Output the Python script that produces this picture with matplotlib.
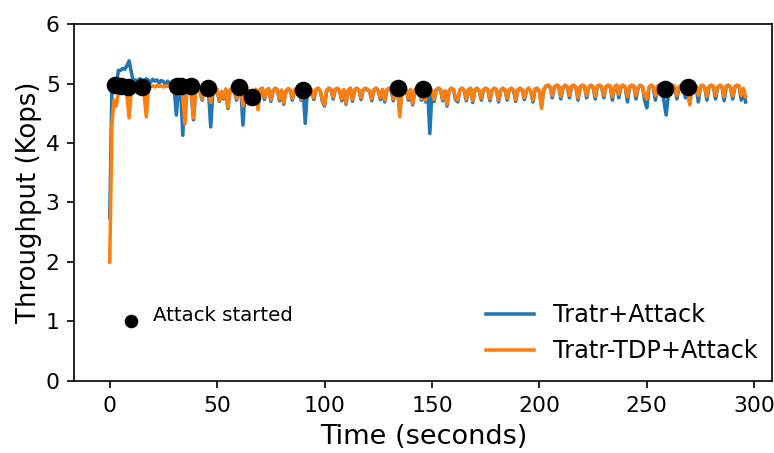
import numpy as np
import matplotlib
matplotlib.use("Agg")
import matplotlib.pyplot as plt

# Throughput samples, one per second (Kops)
tratr_attack = [
    2.75, 4.90, 4.97, 4.95, 5.22, 5.22, 5.25, 5.24, 5.30, 5.38,
    5.20, 5.02, 5.06, 5.04, 5.08, 5.06, 5.03, 5.08, 5.05, 5.02,
    5.07, 5.04, 5.06, 5.01, 5.05, 5.03, 4.98, 5.04, 5.00, 4.97,
    4.92, 4.47, 4.90, 4.92, 4.13, 4.86, 4.92, 4.88, 4.80, 4.39,
    4.90, 4.92, 4.88, 4.72, 4.90, 4.92, 4.86, 4.27, 4.88, 4.92,
    4.89, 4.70, 4.86, 4.74, 4.90, 4.58, 4.88, 4.92, 4.89, 4.72,
    4.90, 4.92, 4.30, 4.87, 4.92, 4.72, 4.86, 4.77, 4.90, 4.60,
    4.89, 4.92, 4.73, 4.88, 4.91, 4.70, 4.87, 4.92, 4.89, 4.71,
    4.88, 4.65, 4.87, 4.91, 4.89, 4.72, 4.88, 4.92, 4.89, 4.72,
    4.90, 4.33, 4.89, 4.92, 4.88, 4.73, 4.89, 4.92, 4.87, 4.70,
    4.62, 4.88, 4.92, 4.89, 4.74, 4.89, 4.92, 4.87, 4.71, 4.89,
    4.65, 4.88, 4.92, 4.70, 4.89, 4.92, 4.88, 4.73, 4.89, 4.92,
    4.89, 4.87, 4.71, 4.89, 4.92, 4.88, 4.73, 4.89, 4.69, 4.89,
    4.92, 4.88, 4.71, 4.89, 4.92, 4.52, 4.87, 4.91, 4.89, 4.72,
    4.89, 4.64, 4.88, 4.92, 4.89, 4.72, 4.88, 4.69, 4.89, 4.16,
    4.87, 4.70, 4.89, 4.92, 4.89, 4.71, 4.87, 4.62, 4.88, 4.92,
    4.89, 4.73, 4.69, 4.89, 4.92, 4.88, 4.71, 4.89, 4.92, 4.68,
    4.89, 4.92, 4.87, 4.72, 4.89, 4.92, 4.89, 4.71, 4.88, 4.92,
    4.89, 4.69, 4.88, 4.92, 4.89, 4.72, 4.89, 4.92, 4.88, 4.70,
    4.89, 4.92, 4.89, 4.73, 4.88, 4.92, 4.87, 4.69, 4.90, 4.92,
    4.87, 4.62, 4.89, 4.95, 4.97, 4.94, 4.76, 4.94, 4.97, 4.95,
    4.74, 4.93, 4.97, 4.94, 4.76, 4.95, 4.97, 4.93, 4.72, 4.94,
    4.97, 4.95, 4.76, 4.93, 4.97, 4.94, 4.74, 4.95, 4.97, 4.94,
    4.76, 4.94, 4.97, 4.95, 4.72, 4.94, 4.97, 4.76, 4.95, 4.97,
    4.93, 4.69, 4.94, 4.97, 4.95, 4.74, 4.93, 4.97, 4.94, 4.72,
    4.59, 4.93, 4.97, 4.94, 4.72, 4.95, 4.97, 4.93, 4.70, 4.47,
    4.80, 4.94, 4.97, 4.94, 4.74, 4.93, 4.97, 4.95, 4.76, 4.94,
    4.66, 4.93, 4.97, 4.94, 4.69, 4.95, 4.97, 4.93, 4.72, 4.94,
    4.97, 4.95, 4.74, 4.93, 4.97, 4.94, 4.71, 4.95, 4.97, 4.93,
    4.74, 4.94, 4.97, 4.95, 4.72, 4.90, 4.69,
]

tratr_tdp_attack = [
    2.00, 4.30, 4.72, 4.62, 4.85, 4.86, 4.84, 4.88, 4.80, 4.42,
    4.86, 4.88, 4.87, 4.90, 4.89, 4.86, 4.82, 4.44, 4.92, 4.95,
    4.96, 4.94, 4.97, 4.95, 4.96, 4.94, 4.96, 4.95, 4.97, 4.94,
    4.92, 4.84, 4.90, 4.86, 4.80, 4.32, 4.88, 4.90, 4.86, 4.42,
    4.88, 4.92, 4.90, 4.74, 4.90, 4.92, 4.88, 4.68, 4.89, 4.92,
    4.90, 4.72, 4.86, 4.76, 4.91, 4.60, 4.89, 4.92, 4.90, 4.75,
    4.91, 4.93, 4.62, 4.88, 4.92, 4.74, 4.88, 4.80, 4.90, 4.56,
    4.90, 4.92, 4.76, 4.89, 4.91, 4.73, 4.88, 4.92, 4.90, 4.74,
    4.89, 4.67, 4.88, 4.91, 4.90, 4.75, 4.89, 4.92, 4.90, 4.74,
    4.91, 4.78, 4.90, 4.92, 4.89, 4.76, 4.90, 4.92, 4.88, 4.73,
    4.64, 4.89, 4.92, 4.90, 4.77, 4.90, 4.92, 4.88, 4.74, 4.90,
    4.67, 4.89, 4.92, 4.73, 4.90, 4.92, 4.89, 4.76, 4.90, 4.92,
    4.90, 4.88, 4.74, 4.90, 4.92, 4.89, 4.76, 4.90, 4.72, 4.90,
    4.92, 4.89, 4.74, 4.90, 4.92, 4.44, 4.88, 4.91, 4.90, 4.75,
    4.90, 4.66, 4.89, 4.92, 4.90, 4.75, 4.89, 4.72, 4.90, 4.91,
    4.88, 4.73, 4.90, 4.92, 4.90, 4.74, 4.88, 4.65, 4.89, 4.92,
    4.90, 4.76, 4.72, 4.90, 4.92, 4.89, 4.74, 4.90, 4.92, 4.71,
    4.90, 4.92, 4.88, 4.75, 4.90, 4.92, 4.90, 4.74, 4.89, 4.92,
    4.90, 4.72, 4.89, 4.92, 4.90, 4.75, 4.90, 4.92, 4.89, 4.73,
    4.90, 4.92, 4.90, 4.76, 4.89, 4.92, 4.88, 4.72, 4.91, 4.92,
    4.88, 4.58, 4.90, 4.96, 4.97, 4.95, 4.80, 4.95, 4.97, 4.96,
    4.78, 4.94, 4.97, 4.95, 4.80, 4.96, 4.97, 4.94, 4.76, 4.95,
    4.97, 4.96, 4.80, 4.94, 4.97, 4.95, 4.78, 4.96, 4.97, 4.95,
    4.80, 4.95, 4.97, 4.96, 4.78, 4.95, 4.97, 4.82, 4.96, 4.97,
    4.94, 4.78, 4.95, 4.97, 4.96, 4.80, 4.94, 4.97, 4.95, 4.79,
    4.74, 4.94, 4.97, 4.95, 4.80, 4.96, 4.97, 4.94, 4.78, 4.90,
    4.82, 4.95, 4.97, 4.95, 4.80, 4.94, 4.97, 4.96, 4.82, 4.95,
    4.64, 4.94, 4.97, 4.95, 4.80, 4.96, 4.97, 4.94, 4.78, 4.95,
    4.97, 4.96, 4.80, 4.94, 4.97, 4.95, 4.78, 4.96, 4.97, 4.94,
    4.79, 4.95, 4.97, 4.96, 4.80, 4.92, 4.78,
]

# Moments when an attack was launched, and the throughput at that moment
attack_times = [2.6, 5.3, 8.6, 15.1, 31.3, 33.2, 38.0, 45.7, 60.1, 66.1,
                89.8, 134.3, 145.9, 258.3, 269.4]
attack_values = [4.97, 4.96, 4.94, 4.94, 4.96, 4.96, 4.96, 4.92, 4.94, 4.77,
                 4.89, 4.92, 4.91, 4.91, 4.94]

x_ticks = [0, 50, 100, 150, 200, 250, 300]
y_ticks = [0, 1, 2, 3, 4, 5, 6]

time_blue = np.arange(len(tratr_attack))
time_orange = np.arange(len(tratr_tdp_attack))

fig, ax = plt.subplots(figsize=(5.16, 3.02), dpi=150)
fig.subplots_adjust(left=0.096, right=0.998, top=0.947, bottom=0.159)

ax.plot(time_blue, tratr_attack, color="#1f77b4", lw=1.7, label="Tratr+Attack")
ax.plot(time_orange, tratr_tdp_attack, color="#ff7f0e", lw=1.7,
        label="Tratr-TDP+Attack")
ax.scatter(attack_times, attack_values, s=55, color="black", zorder=3)

# marker key for the attack dots
ax.plot([10], [1], "o", color="black", markersize=5.5)
ax.text(20, 1.1, "Attack started", fontsize=9.5, va="center")

ax.set_xlim(-16.5, 308.5)
ax.set_ylim(0, 6)
ax.set_yticks(y_ticks)
ax.set_xticks(x_ticks)
ax.tick_params(labelsize=10.5)
ax.set_xlabel("Time (seconds)", fontsize=13)
ax.set_ylabel("Throughput (Kops)", fontsize=12.5, labelpad=2)
ax.legend(loc="lower right", frameon=False, fontsize=11.5,
          bbox_to_anchor=(1.01, -0.01))

fig.savefig("out.png", dpi=150)
